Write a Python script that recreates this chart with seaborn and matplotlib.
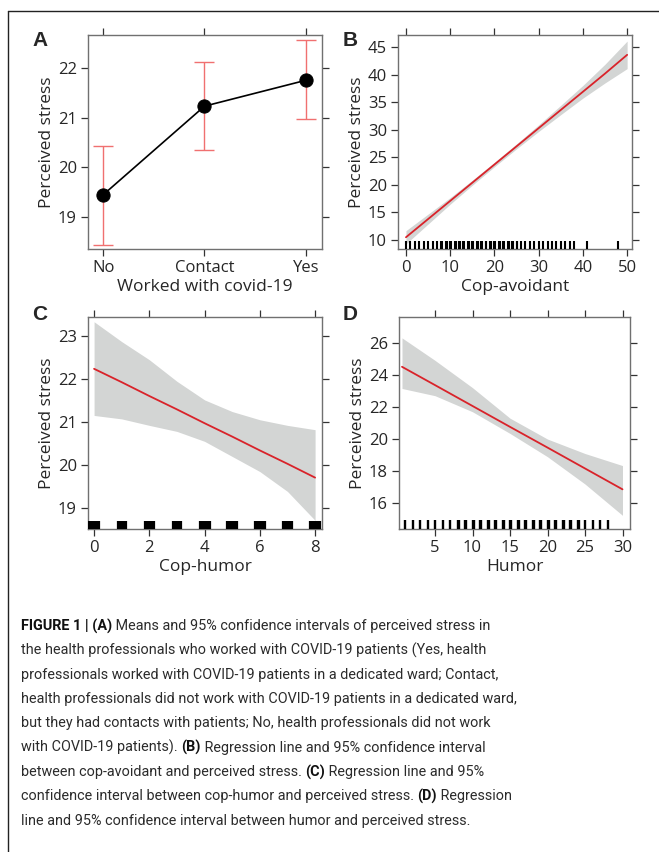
import numpy as np
import pandas as pd
import matplotlib
matplotlib.use("Agg")
import matplotlib.pyplot as plt
from matplotlib.lines import Line2D
import seaborn as sns

# Panel A: means and 95% CI of perceived stress by covid-19 work
covid_groups = ["No", "Contact", "Yes"]
stress_mean = [19.45, 21.23, 21.75]
stress_ci_low = [18.45, 20.35, 20.97]
stress_ci_high = [20.43, 22.12, 22.55]

# Panel B: cop-avoidant regression line and CI band
avoid_x = [0, 5, 10, 15, 20, 25, 30, 35, 40, 45, 50]
avoid_fit = [10.5, 13.8, 17.1, 20.4, 23.7, 27.0, 30.3, 33.6, 36.9, 40.2, 43.6]
avoid_low = [9.3, 12.9, 16.5, 19.95, 23.3, 26.55, 29.7, 32.75, 35.75, 38.5, 41.1]
avoid_high = [11.7, 14.7, 17.7, 20.85, 24.1, 27.45, 30.9, 34.45, 38.05, 41.9, 46.1]
avoid_rug = [0, 1, 2, 3, 4, 5, 6, 7, 8, 8.2, 9, 9.2, 10, 10.2, 11, 11.2, 12, 12.2,
             13, 13.2, 14, 14.2, 15, 15.2, 16, 16.2, 17, 17.2, 18, 18.2, 19, 19.2,
             20, 20.2, 21, 21.2, 22, 22.2, 23, 23.2, 24, 24.2, 25, 25.2, 26, 27, 28,
             29, 30, 31, 32, 33, 34, 35, 36, 37, 38, 41, 48]

# Panel C: cop-humor
cophum_x = [0, 1, 2, 3, 4, 5, 6, 7, 8]
cophum_fit = [22.23, 21.92, 21.60, 21.29, 20.97, 20.66, 20.34, 20.03, 19.71]
cophum_low = [21.15, 21.07, 20.92, 20.78, 20.55, 20.2, 19.85, 19.39, 18.72]
cophum_high = [23.32, 22.86, 22.44, 21.94, 21.51, 21.24, 21.05, 20.92, 20.82]
cophum_rug = [-0.18, -0.14, -0.1, -0.06, -0.02, 0.02, 0.06, 0.1, 0.14, 0.18,
              0.86, 0.9, 0.94, 0.98, 1.02, 1.06, 1.1, 1.14,
              1.84, 1.88, 1.92, 1.96, 2.0, 2.04, 2.08, 2.12, 2.16,
              2.84, 2.88, 2.92, 2.96, 3.0, 3.04, 3.08, 3.12, 3.16,
              3.82, 3.86, 3.9, 3.94, 3.98, 4.02, 4.06, 4.1, 4.14, 4.18,
              4.82, 4.86, 4.9, 4.94, 4.98, 5.02, 5.06, 5.1, 5.14, 5.18,
              5.82, 5.86, 5.9, 5.94, 5.98, 6.02, 6.06, 6.1, 6.14, 6.18,
              6.84, 6.88, 6.92, 6.96, 7.0, 7.04, 7.08, 7.12, 7.16,
              7.82, 7.86, 7.9, 7.94, 7.98, 8.02, 8.06, 8.1, 8.14, 8.18]

# Panel D: humor
humor_x = [0.6, 5, 10, 15, 20, 25, 30]
humor_fit = [24.5, 23.36, 22.06, 20.76, 19.47, 18.17, 16.87]
humor_low = [23.15, 22.7, 21.7, 20.35, 18.9, 17.2, 15.25]
humor_high = [26.3, 24.9, 23.2, 21.3, 20.0, 19.1, 18.35]
humor_rug = [1, 2, 3, 4, 5, 6, 7, 8, 8.15, 9, 9.15, 10, 10.15, 11, 11.15, 12, 12.15,
             13, 13.15, 14, 14.15, 15, 15.15, 16, 16.15, 17, 17.15, 18, 18.15, 19, 19.15,
             20, 20.15, 21, 21.15, 22, 22.15, 23, 23.15, 24, 24.15, 25, 26, 27, 28]

caption_lines = [
    [("FIGURE 1 | (A)", True), (" Means and 95% confidence intervals of perceived stress in", False)],
    [("the health professionals who worked with COVID-19 patients (Yes, health", False)],
    [("professionals worked with COVID-19 patients in a dedicated ward; Contact,", False)],
    [("health professionals did not work with COVID-19 patients in a dedicated ward,", False)],
    [("but they had contacts with patients; No, health professionals did not work", False)],
    [("with COVID-19 patients). ", False), ("(B)", True), (" Regression line and 95% confidence interval", False)],
    [("between cop-avoidant and perceived stress. ", False), ("(C)", True), (" Regression line and 95%", False)],
    [("confidence interval between cop-humor and perceived stress. ", False), ("(D)", True), (" Regression", False)],
    [("line and 95% confidence interval between humor and perceived stress.", False)],
]

sns.set_style("ticks")
plt.rcParams["font.family"] = ["Open Sans", "DejaVu Sans"]

W, H = 659, 852
fig = plt.figure(figsize=(W / 100, H / 100), dpi=100)

def px_axes(left, top, right, bottom):
    return fig.add_axes([left / W, 1 - bottom / H, (right - left) / W, (bottom - top) / H])

ax_a = px_axes(88, 35, 322, 249)
ax_b = px_axes(398, 35, 632, 249)
ax_c = px_axes(88, 317, 322, 529)
ax_d = px_axes(399, 317, 630, 529)

red = "#d9232a"
band = "#d3d5d4"

# A
df_a = pd.DataFrame({"group": covid_groups, "mean": stress_mean})
ax_a.errorbar(covid_groups, stress_mean,
              yerr=[np.array(stress_mean) - np.array(stress_ci_low),
                    np.array(stress_ci_high) - np.array(stress_mean)],
              fmt="none", ecolor="#f07070", elinewidth=1.0, capsize=7, capthick=1.0, zorder=1)
sns.lineplot(data=df_a, x="group", y="mean", ax=ax_a, color="black", lw=1.2,
             marker="o", markersize=9.5, markeredgecolor="black", sort=False, zorder=3)
ax_a.set_xlim(-0.15, 2.16)
ax_a.set_ylim(18.36, 22.66)
ax_a.set_yticks([19, 20, 21, 22])
ax_a.set_xlabel("Worked with covid-19")

# B, C, D
def reg_panel(ax, xs, fit, lo, hi, rug, rug_lw, rug_h):
    ax.fill_between(xs, lo, hi, color=band, lw=0, zorder=1)
    sns.lineplot(x=xs, y=fit, ax=ax, color=red, lw=1.3, zorder=3)
    sns.rugplot(x=rug, ax=ax, height=rug_h, color="black", linewidth=rug_lw, zorder=4)

reg_panel(ax_b, avoid_x, avoid_fit, avoid_low, avoid_high, avoid_rug, 1.5, 0.036)
ax_b.set_xlim(-1.8, 51.1)
ax_b.set_ylim(8.37, 47.2)
ax_b.set_xticks([0, 10, 20, 30, 40, 50])
ax_b.set_yticks([10, 15, 20, 25, 30, 35, 40, 45])
ax_b.set_xlabel("Cop-avoidant")

reg_panel(ax_c, cophum_x, cophum_fit, cophum_low, cophum_high, cophum_rug, 1.6, 0.04)
ax_c.set_xlim(-0.22, 8.25)
ax_c.set_ylim(18.52, 23.43)
ax_c.set_xticks([0, 2, 4, 6, 8])
ax_c.set_yticks([19, 20, 21, 22, 23])
ax_c.set_xlabel("Cop-humor")

reg_panel(ax_d, humor_x, humor_fit, humor_low, humor_high, humor_rug, 1.7, 0.042)
ax_d.set_xlim(0.2, 31.0)
ax_d.set_ylim(14.4, 27.6)
ax_d.set_xticks([5, 10, 15, 20, 25, 30])
ax_d.set_yticks([16, 18, 20, 22, 24, 26])
ax_d.set_xlabel("Humor")

for ax in [ax_a, ax_b, ax_c, ax_d]:
    ax.set_ylabel("Perceived stress", fontsize=12.5, labelpad=2)
    ax.xaxis.label.set_size(12.5)
    ax.xaxis.labelpad = 2
    ax.tick_params(top=True, right=True, labeltop=False, labelright=False,
                   direction="out", length=5, width=0.9, color="#333333",
                   labelsize=12, pad=3)
    for sp in ax.spines.values():
        sp.set_visible(True)
        sp.set_color("#707070")
        sp.set_linewidth(1.0)

for lab, (x, y) in zip("ABCD", [(40, 41), (350, 41), (40, 315), (350, 315)]):
    fig.text(x / W, 1 - y / H, lab, fontsize=15, fontweight="bold",
             ha="center", va="center", family=["Liberation Sans", "DejaVu Sans"])

# frame lines of the figure box
fig.add_artist(Line2D([8 / W, 1], [1 - 11 / H, 1 - 11 / H], transform=fig.transFigure,
                      color="#222222", lw=1.0))
fig.add_artist(Line2D([8 / W, 8 / W], [0, 1 - 11 / H], transform=fig.transFigure,
                      color="#222222", lw=1.0))

# caption with mixed bold segments; font size fitted so the widest line spans ~494 px
cap_font = ["Roboto", "Liberation Sans", "DejaVu Sans"]
renderer = fig.canvas.get_renderer()
probe = fig.text(0, 0, caption_lines[3][0][0], fontsize=12, family=cap_font)
cap_size = 12 * 494 / probe.get_window_extent(renderer).width
probe.remove()

for i, segs in enumerate(caption_lines):
    x = 21 / W
    y = 1 - (626 + i * 24.35) / H
    for txt, bold in segs:
        t = fig.text(x, y, txt, fontsize=cap_size, fontweight="bold" if bold else "normal",
                     va="center", ha="left", family=cap_font,
                     color="#111111" if bold else "#2b2b2b")
        x += t.get_window_extent(renderer).width / W

fig.savefig("out.png", dpi=100)
